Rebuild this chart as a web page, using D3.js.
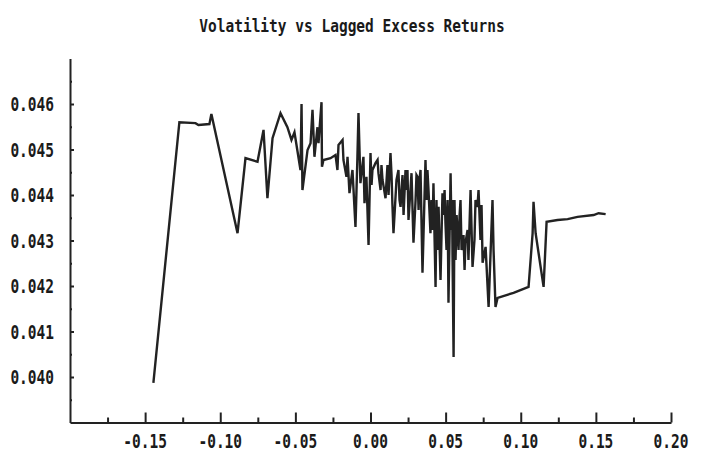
<!DOCTYPE html>
<html>
<head>
<meta charset="utf-8">
<script src="https://cdn.jsdelivr.net/npm/d3@7"></script>
<style>
    body { margin: 0; background: #fff; }
    text { font-family: "DejaVu Sans Mono", monospace; font-weight: bold; fill: #1a1a1a; }
</style>
</head>
<body>
<div id="chart"></div>
<script>
// Lagged excess return (x) and volatility (y)
const lagReturn = [
    -0.1445, -0.1272, -0.1165, -0.1145, -0.1072, -0.1059, -0.0885, -0.0832, -0.0752, -0.0712,
    -0.0686, -0.0652, -0.0599, -0.0553, -0.0526, -0.0506, -0.0466, -0.0459, -0.0453, -0.0419,
    -0.0399, -0.0386, -0.0373, -0.0353, -0.0346, -0.0326, -0.0323, -0.0313, -0.0266, -0.0233,
    -0.0220, -0.0213, -0.0186, -0.0180, -0.0160, -0.0153, -0.0140, -0.0120, -0.0100, -0.0087,
    -0.0080, -0.0067, -0.0047, -0.0040, -0.0027, -0.0013, 0.0000, 0.0013, 0.0033, 0.0053,
    0.0080, 0.0100, 0.0133, 0.0153, 0.0173, 0.0200, 0.0233, 0.0253, 0.0273, 0.0286,
    0.0313, 0.0333, 0.0346, 0.0366, 0.0386, 0.0399, 0.0419, 0.0433, 0.0453, 0.0466,
    0.0479, 0.0499, 0.0519, 0.0533, 0.0546, 0.0553, 0.0559, 0.0579, 0.0599, 0.0606,
    0.0632, 0.0666, 0.0679, 0.0712, 0.0719, 0.0746, 0.0766, 0.0786, 0.0812, 0.0819,
    0.0832, 0.0846, 0.0952, 0.1052, 0.1079, 0.1085, 0.1099, 0.1152, 0.1172, 0.1245,
    0.1312, 0.1378, 0.1485, 0.1518, 0.1565,
    // dense band between 0.00 and 0.075
    0.0007, 0.0047, 0.0067, 0.0073, 0.0113, 0.0120, 0.0140, 0.0146, 0.0186, 0.0193,
    0.0213, 0.0220, 0.0240, 0.0246, 0.0300, 0.0306, 0.0320, 0.0326, 0.0373, 0.0379,
    0.0406, 0.0413, 0.0439, 0.0446, 0.0486, 0.0493, 0.0506, 0.0513, 0.0539, 0.0543,
    0.0566, 0.0573, 0.0586, 0.0593, 0.0619, 0.0626, 0.0646, 0.0652, 0.0692, 0.0699,
    0.0732, 0.0739
];
const volatility = [
    0.03987, 0.04560, 0.04558, 0.04554, 0.04556, 0.04578, 0.04316, 0.04481, 0.04473, 0.04543,
    0.04393, 0.04525, 0.04580, 0.04549, 0.04521, 0.04538, 0.04455, 0.04600, 0.04411, 0.04499,
    0.04514, 0.04587, 0.04484, 0.04549, 0.04514, 0.04604, 0.04462, 0.04477, 0.04481, 0.04488,
    0.04455, 0.04510, 0.04521, 0.04477, 0.04440, 0.04484, 0.04404, 0.04455, 0.04330, 0.04484,
    0.04580, 0.04426, 0.04484, 0.04382, 0.04440, 0.04290, 0.04492, 0.04455, 0.04470, 0.04448,
    0.04433, 0.04393, 0.04492, 0.04316, 0.04433, 0.04374, 0.04455, 0.04345, 0.04448, 0.04295,
    0.04440, 0.04455, 0.04229, 0.04477, 0.04411, 0.04316, 0.04426, 0.04198, 0.04374, 0.04213,
    0.04404, 0.04338, 0.04163, 0.04448, 0.04264, 0.04044, 0.04389, 0.04323, 0.04389, 0.04279,
    0.04295, 0.04411, 0.04242, 0.04374, 0.04411, 0.04251, 0.04286, 0.04154, 0.04389, 0.04279,
    0.04154, 0.04174, 0.04185, 0.04198, 0.04316, 0.04385, 0.04316, 0.04198, 0.04341, 0.04345,
    0.04347, 0.04352, 0.04356, 0.04360, 0.04358,
    // dense band between 0.00 and 0.075
    0.04422, 0.04477, 0.04411, 0.04466, 0.04466, 0.04400, 0.04444, 0.04378, 0.04455, 0.04389,
    0.04444, 0.04356, 0.04411, 0.04455, 0.04389, 0.04444, 0.04367, 0.04433, 0.04389, 0.04455,
    0.04389, 0.04323, 0.04389, 0.04279, 0.04356, 0.04411, 0.04279, 0.04389, 0.04323, 0.04389,
    0.04257, 0.04356, 0.04279, 0.04356, 0.04312, 0.04235, 0.04323, 0.04257, 0.04301, 0.04389,
    0.04301, 0.04378
];
const xTickValues = [-0.15, -0.10, -0.05, 0.00, 0.05, 0.10, 0.15, 0.20];
const xTickLabels = ["-0.15", "-0.10", "-0.05", "0.00", "0.05", "0.10", "0.15", "0.20"];
const yTickValues = [0.040, 0.041, 0.042, 0.043, 0.044, 0.045, 0.046];
const yTickLabels = ["0.040", "0.041", "0.042", "0.043", "0.044", "0.045", "0.046"];
const chartTitle = "Volatility vs Lagged Excess Returns";

const width = 703;
const height = 452;

const svg = d3.select("#chart")
    .append("svg")
    .attr("width", width)
    .attr("height", height);

// Scales
const x = d3.scaleLinear().domain([-0.2, 0.2]).range([70, 671]);
const y = d3.scaleLinear().domain([0.039, 0.047]).range([422.5, 58.5]);

const ink = "#222";
const textScale = 1.3;

// Title
svg.append("g")
    .attr("transform", `translate(352,32) scale(1,1.25)`)
    .append("text")
    .attr("text-anchor", "middle")
    .style("font-size", "14.5px")
    .text(chartTitle);

// X axis: major ticks every 0.05, minor every 0.025, pointing up
const xAxisMinor = svg.append("g")
    .attr("transform", `translate(0,${y(0.039)})`)
    .call(d3.axisBottom(x).tickValues(d3.range(-0.2, 0.2001, 0.025).filter((d, i) => i % 2 === 1)).tickSize(-5).tickFormat(""));
xAxisMinor.select(".domain").remove();

const xAxisMajor = svg.append("g")
    .attr("transform", `translate(0,${y(0.039)})`)
    .call(d3.axisBottom(x).tickValues(xTickValues).tickSize(-10).tickFormat("").tickSizeOuter(0));

// Y axis: major ticks every 0.001, minor every 0.0005, pointing right
const yAxisMinor = svg.append("g")
    .attr("transform", `translate(${x(-0.2)},0)`)
    .call(d3.axisLeft(y).tickValues(d3.range(0.0395, 0.0470, 0.001)).tickSize(-2).tickFormat(""));
yAxisMinor.select(".domain").remove();

const yAxisMajor = svg.append("g")
    .attr("transform", `translate(${x(-0.2)},0)`)
    .call(d3.axisLeft(y).tickValues(yTickValues).tickSize(-4).tickFormat("").tickSizeOuter(0));

svg.selectAll(".tick line, .domain")
    .attr("stroke", ink)
    .attr("stroke-width", 2);

// Tick labels, drawn tall and narrow like the original bitmap font
xTickValues.forEach((v, i) => {
    svg.append("g")
        .attr("transform", `translate(${x(v)},448) scale(1,${textScale})`)
        .append("text")
        .attr("text-anchor", "middle")
        .style("font-size", "14.5px")
        .text(xTickLabels[i]);
});

yTickValues.forEach((v, i) => {
    svg.append("g")
        .attr("transform", `translate(54,${y(v) + 7}) scale(1,${textScale})`)
        .append("text")
        .attr("text-anchor", "end")
        .style("font-size", "14.5px")
        .text(yTickLabels[i]);
});

// The line, ordered by lagged return
const points = d3.sort(lagReturn.map((d, i) => ({ x: d, y: volatility[i] })), (d) => d.x);
const line = d3.line().x((d) => x(d.x)).y((d) => y(d.y));

svg.append("path")
    .datum(points)
    .attr("fill", "none")
    .attr("stroke", ink)
    .attr("stroke-width", 2.4)
    .attr("stroke-linejoin", "miter")
    .attr("d", line);
</script>
</body>
</html>
